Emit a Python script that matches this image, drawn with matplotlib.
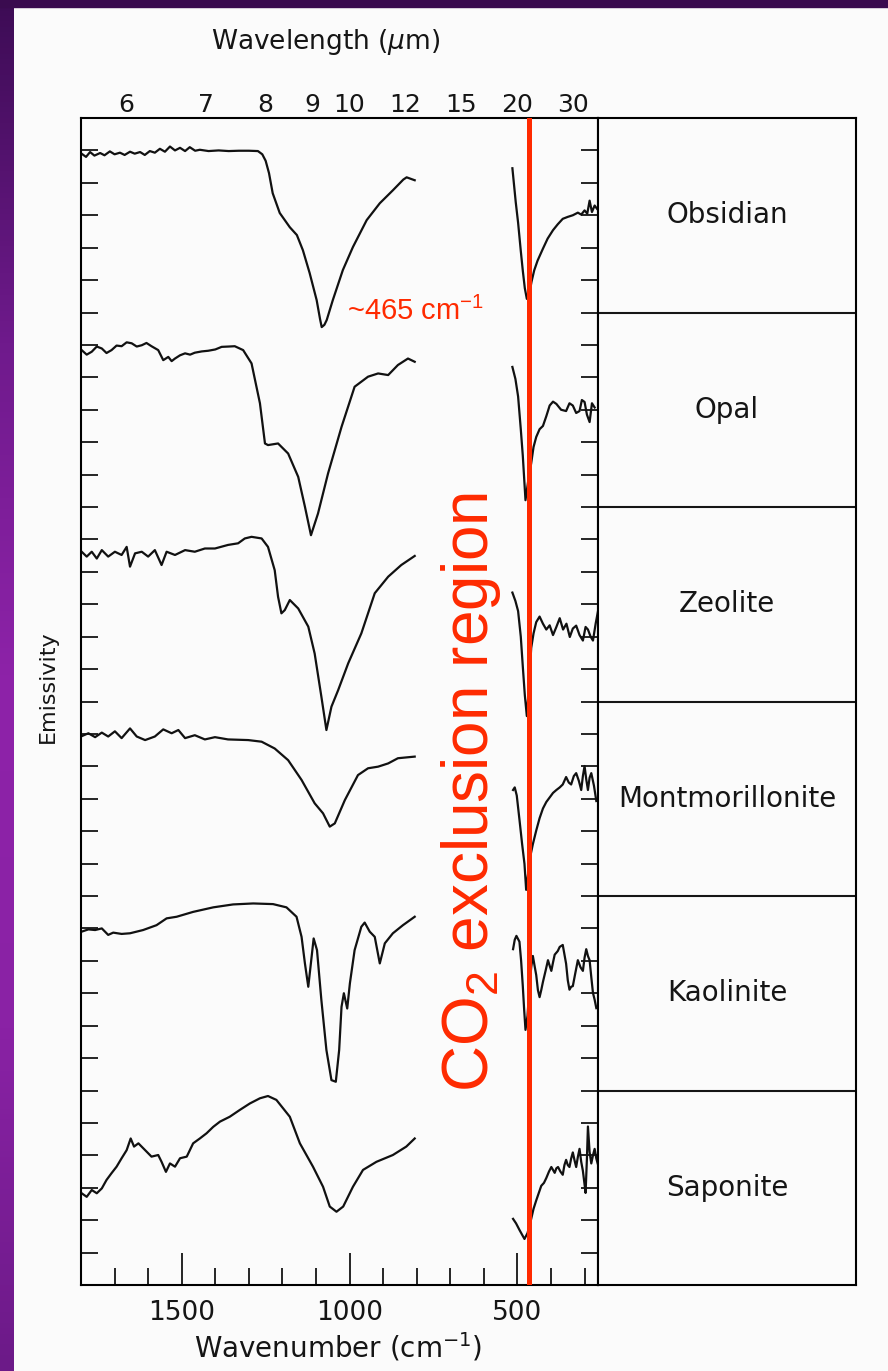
import numpy as np
import matplotlib.pyplot as plt
from matplotlib.colors import LinearSegmentedColormap
from matplotlib.patches import Rectangle

# ----------------------------------------------------------------------------------------------------------------------

# fuente para los textos rojos (incluye sub/superindices de mathtext)
plt.rcParams['mathtext.rm'] = 'Liberation Sans'
plt.rcParams['mathtext.it'] = 'Liberation Sans:italic'
plt.rcParams['mathtext.bf'] = 'Liberation Sans:bold'

ANCHO, ALTO = 888, 1371
ROJO = '#ff2a00'
LINEA = '#111111'

# Minerales (de arriba hacia abajo) y eje superior en longitud de onda
minerales = ['Obsidian', 'Opal', 'Zeolite', 'Montmorillonite', 'Kaolinite', 'Saponite']
longitudes_onda = [6, 7, 8, 9, 10, 12, 15, 20, 30]
banda_co2 = 465

# Espectros apilados: emisividad con desplazamiento vertical (unidades de marca del eje)
# Cada mineral tiene dos tramos: antes y despues de la region de exclusion del CO2
obsidian_hi_wn = [1797, 1785, 1773, 1760, 1743, 1730, 1714, 1700, 1684, 1670, 1654, 1640, 1624, 1610, 1595, 1580,
                  1565, 1550, 1535, 1520, 1505, 1490, 1476, 1460, 1446, 1420, 1390, 1360, 1330, 1300, 1273, 1260,
                  1250, 1240, 1229, 1208, 1178, 1157, 1139, 1119, 1098, 1088, 1083, 1075, 1068, 1050, 1020, 990,
                  949, 910, 871, 840, 830, 806]
obsidian_hi_em = [34.89, 34.80, 34.95, 34.84, 34.92, 34.85, 34.97, 34.88, 34.93, 34.86, 34.96, 34.90, 34.95, 34.86,
                  34.98, 34.93, 35.05, 34.96, 35.12, 35.00, 35.08, 34.98, 35.10, 34.99, 35.02, 34.98, 35.00, 34.98,
                  34.99, 34.99, 34.98, 34.88, 34.68, 34.30, 33.68, 33.07, 32.63, 32.39, 31.92, 31.22, 30.38, 29.80,
                  29.55, 29.62, 29.77, 30.38, 31.31, 32.02, 32.85, 33.37, 33.77, 34.10, 34.17, 34.08]
obsidian_lo_wn = [515, 505, 498, 490, 484, 478, 472, 465, 458, 450, 440, 424, 410, 394, 380, 365, 350, 335, 320, 310,
                  300, 292, 285, 278, 270, 263]
obsidian_lo_em = [34.45, 33.40, 32.77, 31.90, 31.29, 30.75, 30.42, 30.55, 30.95, 31.30, 31.60, 31.97, 32.28, 32.54,
                  32.72, 32.89, 32.95, 33.00, 33.08, 33.02, 33.15, 33.05, 33.45, 33.10, 33.30, 33.20]

opal_hi_wn = [1798, 1783, 1768, 1753, 1738, 1724, 1709, 1694, 1679, 1664, 1649, 1634, 1619, 1605, 1590, 1570, 1555,
              1540, 1530, 1520, 1505, 1490, 1475, 1461, 1440, 1421, 1400, 1381, 1360, 1342, 1317, 1292, 1267, 1252,
              1243, 1213, 1183, 1153, 1133, 1115, 1094, 1064, 1024, 985, 945, 915, 885, 856, 826, 806]
opal_hi_em = [28.84, 28.70, 28.79, 28.95, 28.89, 28.75, 28.84, 28.98, 28.96, 29.08, 29.05, 28.95, 28.99, 29.06, 28.96,
              28.84, 28.53, 28.63, 28.50, 28.58, 28.68, 28.74, 28.70, 28.76, 28.80, 28.82, 28.86, 28.94, 28.95, 28.96,
              28.84, 28.43, 27.20, 25.96, 25.91, 25.96, 25.65, 24.93, 24.01, 23.13, 23.80, 25.04, 26.47, 27.71, 28.02,
              28.12, 28.07, 28.38, 28.58, 28.48]
opal_lo_wn = [515, 506, 498, 490, 484, 476, 468, 459, 452, 444, 434, 424, 414, 404, 394, 384, 370, 355, 345, 335, 325,
              315, 308, 300, 293, 285, 278, 270]
opal_lo_em = [28.32, 27.95, 27.41, 26.40, 25.58, 24.21, 24.80, 25.35, 25.85, 26.16, 26.40, 26.50, 26.80, 27.13, 27.25,
              27.18, 27.00, 26.96, 27.20, 27.13, 26.90, 26.96, 27.30, 27.24, 26.85, 26.62, 27.20, 27.07]

zeolite_hi_wn = [1798, 1783, 1768, 1753, 1738, 1719, 1699, 1679, 1664, 1654, 1639, 1619, 1600, 1580, 1560, 1545, 1520,
                 1490, 1461, 1431, 1401, 1362, 1332, 1312, 1292, 1262, 1243, 1223, 1213, 1203, 1193, 1178, 1153, 1123,
                 1104, 1084, 1069, 1054, 1034, 1004, 965, 925, 885, 846, 806]
zeolite_hi_em = [22.62, 22.47, 22.62, 22.41, 22.67, 22.47, 22.62, 22.52, 22.77, 22.16, 22.57, 22.62, 22.47, 22.67,
                 22.21, 22.62, 22.52, 22.67, 22.62, 22.72, 22.72, 22.83, 22.88, 23.03, 23.08, 23.03, 22.77, 22.05,
                 21.23, 20.72, 20.82, 21.13, 20.87, 20.31, 19.48, 18.15, 17.12, 17.84, 18.35, 19.18, 20.10, 21.34,
                 21.85, 22.21, 22.49]
zeolite_lo_wn = [515, 506, 498, 490, 484, 478, 472, 466, 459, 452, 444, 434, 424, 414, 404, 394, 384, 374, 364, 354,
                 344, 335, 325, 315, 305, 297, 290, 282, 275, 267, 260]
zeolite_lo_em = [21.36, 21.10, 20.79, 20.00, 19.08, 18.20, 17.55, 18.40, 19.65, 20.10, 20.45, 20.62, 20.40, 20.22,
                 20.35, 20.05, 20.30, 20.57, 20.22, 20.40, 19.99, 20.25, 20.34, 20.05, 19.88, 20.30, 20.22, 20.00,
                 19.88, 20.40, 20.79]

mont_hi_wn = [1798, 1778, 1758, 1738, 1719, 1699, 1679, 1654, 1634, 1609, 1580, 1555, 1530, 1510, 1490, 1461, 1431,
              1401, 1362, 1302, 1262, 1223, 1183, 1143, 1104, 1079, 1059, 1044, 1014, 975, 945, 915, 885, 856, 806]
mont_hi_em = [16.93, 17.02, 16.90, 17.04, 16.92, 17.08, 16.87, 17.17, 16.92, 16.81, 16.92, 17.14, 17.02, 17.12, 16.87,
              16.96, 16.83, 16.90, 16.83, 16.81, 16.76, 16.55, 16.19, 15.58, 14.86, 14.55, 14.14, 14.24, 14.96, 15.73,
              15.94, 15.99, 16.09, 16.25, 16.30]
mont_lo_wn = [513, 508, 502, 494, 486, 479, 474, 468, 464, 454, 444, 434, 424, 414, 404, 394, 384, 374, 365, 355, 347,
              340, 332, 325, 317, 310, 305, 300, 295, 290, 285, 280, 272, 265]
mont_lo_em = [15.27, 15.35, 15.10, 14.36, 13.60, 12.99, 12.19, 12.70, 13.11, 13.60, 14.02, 14.40, 14.70, 14.90, 15.04,
              15.18, 15.27, 15.35, 15.44, 15.67, 15.50, 15.44, 15.70, 15.79, 15.55, 15.27, 15.70, 16.01, 15.60, 15.27,
              15.65, 15.79, 15.40, 14.93]

kaol_hi_wn = [1798, 1778, 1758, 1738, 1719, 1704, 1679, 1654, 1615, 1575, 1545, 1515, 1466, 1406, 1347, 1287, 1228,
              1188, 1158, 1143, 1133, 1123, 1113, 1107, 1097, 1084, 1069, 1054, 1041, 1031, 1024, 1017, 1007, 999, 985,
              965, 955, 940, 925, 910, 895, 871, 841, 806]
kaol_hi_em = [10.90, 10.97, 10.95, 11.00, 10.80, 10.87, 10.83, 10.85, 10.95, 11.10, 11.31, 11.36, 11.51, 11.65, 11.74,
              11.77, 11.75, 11.65, 11.36, 10.74, 9.92, 9.20, 10.13, 10.69, 10.33, 8.79, 7.25, 6.32, 6.27, 7.25, 8.58,
              9.00, 8.53, 9.31, 10.33, 11.05, 11.18, 10.90, 10.74, 9.92, 10.54, 10.85, 11.10, 11.36]
kaol_lo_wn = [513, 508, 503, 494, 489, 484, 480, 476, 470, 464, 459, 454, 449, 444, 439, 434, 429, 424, 416, 409, 404,
              399, 394, 389, 380, 374, 365, 360, 355, 350, 345, 340, 335, 328, 320, 312, 305, 300, 295, 290, 285, 280,
              275, 270, 265]
kaol_lo_em = [10.36, 10.65, 10.77, 10.59, 10.00, 9.22, 8.50, 7.87, 8.30, 9.22, 9.80, 10.15, 9.85, 9.56, 9.10, 8.88,
              9.10, 9.35, 9.70, 10.02, 9.85, 9.69, 9.95, 10.19, 10.30, 10.43, 10.49, 10.20, 9.91, 9.40, 9.11, 9.20,
              9.22, 9.60, 10.02, 9.80, 9.69, 10.10, 10.36, 10.15, 10.02, 9.50, 9.01, 8.80, 8.54]

sapo_hi_wn = [1798, 1783, 1768, 1753, 1738, 1724, 1709, 1694, 1679, 1664, 1652, 1642, 1629, 1609, 1590, 1570, 1560,
              1547, 1535, 1520, 1505, 1485, 1466, 1446, 1426, 1406, 1386, 1357, 1327, 1297, 1267, 1243, 1218, 1178,
              1148, 1109, 1079, 1059, 1039, 1019, 990, 960, 920, 871, 831, 806]
sapo_hi_em = [2.83, 2.72, 2.93, 2.83, 2.98, 3.24, 3.45, 3.65, 3.91, 4.16, 4.52, 4.27, 4.37, 4.16, 3.96, 4.01, 3.80,
              3.49, 3.75, 3.65, 3.91, 3.96, 4.37, 4.52, 4.68, 4.88, 5.04, 5.19, 5.40, 5.60, 5.76, 5.83, 5.71, 5.19,
              4.37, 3.65, 3.03, 2.42, 2.26, 2.42, 3.03, 3.55, 3.80, 4.01, 4.27, 4.52]
sapo_lo_wn = [513, 504, 494, 486, 479, 470, 459, 452, 444, 436, 429, 421, 414, 406, 399, 394, 389, 384, 379, 372, 365,
              360, 355, 350, 345, 340, 335, 330, 325, 320, 315, 310, 305, 300, 297, 293, 290, 285, 280, 275, 270, 265,
              261]
sapo_lo_em = [2.04, 1.90, 1.70, 1.55, 1.42, 1.60, 2.04, 2.35, 2.61, 2.85, 3.06, 3.15, 3.30, 3.50, 3.64, 3.55, 3.46,
              3.60, 3.64, 3.50, 3.40, 3.70, 3.86, 3.70, 3.64, 3.90, 4.09, 3.85, 3.64, 3.95, 4.20, 3.80, 3.52, 3.10,
              2.84, 3.90, 4.89, 4.10, 3.75, 4.00, 4.20, 3.90, 3.75]

tramos = [(obsidian_hi_wn, obsidian_hi_em), (obsidian_lo_wn, obsidian_lo_em),
          (opal_hi_wn, opal_hi_em), (opal_lo_wn, opal_lo_em),
          (zeolite_hi_wn, zeolite_hi_em), (zeolite_lo_wn, zeolite_lo_em),
          (mont_hi_wn, mont_hi_em), (mont_lo_wn, mont_lo_em),
          (kaol_hi_wn, kaol_hi_em), (kaol_lo_wn, kaol_lo_em),
          (sapo_hi_wn, sapo_hi_em), (sapo_lo_wn, sapo_lo_em)]

# ----------------------------------------------------------------------------------------------------------------------

fig = plt.figure(figsize=(ANCHO / 100, ALTO / 100), dpi=100)
fig.patch.set_facecolor('#fbfbfb')

# Marco morado de la diapositiva (borde superior y franja izquierda degradada)
fig.add_artist(Rectangle((0, 1 - 7 / ALTO), 1, 7 / ALTO, transform=fig.transFigure, color='#3a0b4f', zorder=10))
franja = fig.add_axes([0, 0, 14 / ANCHO, 1])
franja.axis('off')
degradado = LinearSegmentedColormap.from_list('marco', ['#3d0c55', '#6f1a8c', '#8e23a9', '#8a22a5', '#6c1a88'])
franja.imshow(np.linspace(0, 1, 256)[:, None], aspect='auto', cmap=degradado, extent=[0, 1, 0, 1], origin='upper')

# Panel de espectros
ax = fig.add_axes([81 / ANCHO, 1 - 1285 / ALTO, 517 / ANCHO, 1167 / ALTO])
ax.set_facecolor('#fbfbfb')
for wn, em in tramos:
    ax.plot(wn, em, color=LINEA, lw=1.6, solid_joinstyle='round')
ax.axvline(banda_co2, color=ROJO, lw=3.6, zorder=5)

ax.set_xlim(1800, 260)
ax.set_ylim(0, 36)
ax.set_xticks([1500, 1000, 500])
ax.set_xticklabels(['1500', '1000', '500'])
ax.set_xticks(np.arange(300, 1800, 100), minor=True)
ax.set_yticks([])
ax.set_yticks(np.arange(1, 36), minor=True)
ax.tick_params(axis='x', which='major', direction='in', length=23, width=1.2, top=True, labeltop=False,
               labelsize=19, pad=11, labelcolor='#151515')
ax.tick_params(axis='x', which='minor', direction='in', length=12, width=1.2, top=True)
ax.tick_params(axis='y', which='minor', direction='in', length=12, width=1.2, left=True, right=True)
for s in ax.spines.values():
    s.set_linewidth(1.5)

# Eje superior: longitud de onda (um) = 10000 / numero de onda
ax2 = ax.twiny()
ax2.set_xlim(ax.get_xlim())
ax2.set_xticks(10000 / np.array(longitudes_onda, dtype=float))
ax2.set_xticklabels([str(l) for l in longitudes_onda])
ax2.tick_params(axis='x', length=0, labelsize=18, pad=1, labelcolor='#151515')
for s in ax2.spines.values():
    s.set_visible(False)

# Tabla con los nombres de los minerales
tabla = fig.add_axes([598 / ANCHO, 1 - 1285 / ALTO, 258 / ANCHO, 1167 / ALTO])
tabla.set_facecolor('#fbfbfb')
tabla.set_xlim(0, 1)
tabla.set_ylim(0, len(minerales))
tabla.set_xticks([])
tabla.set_yticks([])
for s in tabla.spines.values():
    s.set_linewidth(1.5)
for i, nombre in enumerate(minerales):
    tabla.text(0.5, len(minerales) - i - 0.5, nombre, ha='center', va='center', fontsize=20, color='#151515')
    if i > 0:
        tabla.axhline(len(minerales) - i, color='#151515', lw=1.5)

# Titulos de ejes
fig.text(326 / ANCHO, 1 - 42 / ALTO, 'Wavelength ($\\mu$m)', ha='center', va='center', fontsize=19,
         color='#151515')
fig.text(338 / ANCHO, 1 - 1347 / ALTO, 'Wavenumber (cm$^{-1}$)', ha='center', va='center', fontsize=20,
         color='#151515')
fig.text(48 / ANCHO, 1 - 687 / ALTO, 'Emissivity', rotation=90, ha='center', va='center', fontsize=16,
         color='#151515')

# Anotaciones en rojo
fig.text(347 / ANCHO, 1 - 320 / ALTO, '~465 cm$^{-1}$', color=ROJO, fontsize=21, family='Liberation Sans',
         math_fontfamily='custom', ha='left', va='baseline')
fig.text(488 / ANCHO, 1 - 792 / ALTO, 'CO$_2$ exclusion region', color=ROJO, fontsize=46, family='Liberation Sans',
         math_fontfamily='custom', rotation=90, rotation_mode='anchor', ha='center', va='baseline')

fig.savefig('out.png', dpi=100, facecolor=fig.get_facecolor())
